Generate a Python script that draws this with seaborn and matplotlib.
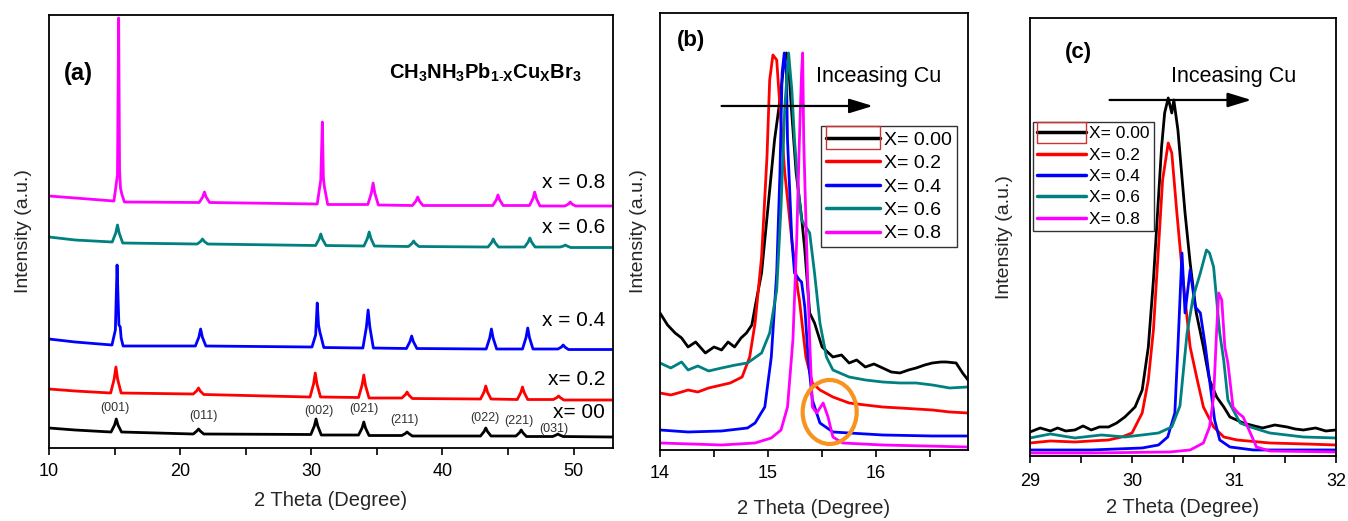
import matplotlib
matplotlib.use("Agg")
import matplotlib.pyplot as plt
import seaborn as sns
import pandas as pd
from matplotlib.patches import Ellipse, Rectangle
from matplotlib.legend_handler import HandlerLine2D
from matplotlib.ticker import MultipleLocator

# ---------------- data ----------------
labels_a = ["x= 00", "x= 0.2", "x = 0.4", "x = 0.6", "x = 0.8"]
legend_labels = ["X= 0.00", "X= 0.2", "X= 0.4", "X= 0.6", "X= 0.8"]
colors = ["#000000", "#FF0000", "#0000FF", "#008080", "#FF00FF"]

# Panel (a): full patterns (intensity in arbitrary, offset units)
a0_x = [10, 12, 14.73, 15.0, 15.13, 15.26, 15.53, 21.0, 21.27, 21.4, 21.53, 21.8,
        29.96, 30.23, 30.36, 30.49, 30.76, 33.6, 33.87, 34.0, 34.13, 34.4, 36.9, 37.17, 37.3, 37.43, 37.7,
        42.9, 43.17, 43.3, 43.43, 43.7, 45.6, 45.87, 46.0, 46.13, 46.4, 48.4, 48.67, 48.8, 48.93, 49.2, 53]
a0_y = [22, 20, 18, 25, 31, 25, 18, 16, 19, 21, 19, 16,
        15.5, 24, 31, 24, 15, 15, 22, 28, 22, 14.5, 14.5, 16.5, 18, 16.5, 14,
        14, 18.5, 22, 18.5, 14, 14, 17.3, 20, 17.3, 13.5, 13.5, 15, 16, 15, 13.5, 13]
a2_x = [10, 12, 14.7, 14.97, 15.1, 15.23, 15.5, 21.0, 21.27, 21.4, 21.53, 21.8,
        29.9, 30.17, 30.3, 30.43, 30.7, 33.6, 33.87, 34.0, 34.13, 34.4, 36.9, 37.17, 37.3, 37.43, 37.7,
        42.9, 43.17, 43.3, 43.43, 43.7, 45.7, 45.97, 46.1, 46.23, 46.5, 48.45, 48.72, 48.85, 48.98, 49.25, 53]
a2_y = [61, 59, 57, 71, 83, 71, 57, 56, 59.3, 62, 59, 55.5,
        53, 66, 77, 66, 53, 52.5, 65, 75, 64.5, 52, 52, 55.3, 58, 55, 51.5,
        51, 58, 64, 58, 51, 50.5, 57.4, 63, 57.4, 50.5, 50.5, 52.4, 54, 52.4, 50, 50]
a4_x = [10, 12, 14.8, 15.06, 15.12, 15.19, 15.27, 15.33, 15.43, 15.5, 15.65, 21.16, 21.43, 21.56, 21.69, 21.96,
        30.05, 30.33, 30.45, 30.55, 30.65, 30.75, 30.95, 33.93, 34.2, 34.33, 34.46, 34.73,
        37.25, 37.52, 37.65, 37.78, 38.05, 43.33, 43.6, 43.73, 43.86, 44.13, 46.1, 46.37, 46.5, 46.63, 46.9,
        48.8, 49.07, 49.2, 49.33, 49.6, 53]
a4_y = [111, 108, 105, 120, 150, 185, 150, 125, 123, 112, 104, 104, 113, 121, 113, 104,
        103, 115, 147, 125, 118, 113, 102.5, 102, 123, 140, 123, 102,
        101.5, 108.4, 114, 108.4, 101.5, 101, 112, 121, 112, 101, 101, 112.5, 122, 112.5, 101,
        101, 103, 105, 103, 100.5, 100.5]
a6_x = [10, 12, 14.82, 15.09, 15.22, 15.35, 15.62, 21.3, 21.57, 21.7, 21.83, 22.1,
        30.32, 30.59, 30.72, 30.85, 31.12, 34.01, 34.28, 34.41, 34.54, 34.81, 37.4, 37.67, 37.8, 37.93, 38.2,
        43.47, 43.74, 43.87, 44.0, 44.27, 46.26, 46.53, 46.66, 46.79, 47.06, 48.97, 49.24, 49.37, 49.5, 49.77, 53]
a6_y = [213, 210, 208, 217, 225, 217, 207, 206, 208.7, 211, 208.7, 206,
        204.5, 210.8, 216, 210.8, 204.5, 204, 211.7, 218, 211.7, 204, 203.5, 206.5, 209, 206.5, 203.5,
        203, 207.4, 211, 207.4, 203, 203, 208, 212, 208, 203, 203, 204, 205, 204, 202.5, 202.5]
a8_x = [10, 12, 14.95, 15.22, 15.31, 15.38, 15.45, 15.55, 15.75, 21.45, 21.72, 21.85, 21.98, 22.25,
        30.45, 30.72, 30.84, 30.92, 31.0, 31.25, 34.31, 34.58, 34.71, 34.84, 35.11,
        37.71, 37.98, 38.11, 38.24, 38.51, 43.83, 44.1, 44.23, 44.36, 44.63, 46.63, 46.9, 47.03, 47.16, 47.43,
        49.34, 49.61, 49.74, 49.87, 50.14, 53]
a8_y = [254, 252, 249, 275, 432, 280, 262, 256, 248, 247.5, 253, 258, 253, 247.5,
        246, 270, 328, 272, 263, 245.5, 245.5, 257, 267, 257, 245,
        244.5, 249, 253, 249, 244.5, 244.5, 250, 255, 250, 244.5, 244.5, 251.5, 258, 251.5, 244,
        244, 246, 248, 246, 244, 244]

# hkl labels in panel (a)
hkl_text = ["(001)", "(011)", "(002)", "(021)", "(211)", "(022)", "(221)", "(031)"]
hkl_x = [15.06, 21.8, 30.6, 34.0, 37.1, 43.2, 45.86, 48.5]
hkl_y = [42, 34, 39, 41, 30, 32, 29, 21]
label_a_y = [38, 71, 130, 223, 268]

# Panel (b): zoom around 15 deg
b0_x = [14.0, 14.07, 14.14, 14.2, 14.26, 14.33, 14.42, 14.5, 14.57, 14.63, 14.69, 14.75, 14.8, 14.85, 14.88,
        14.94, 15.015, 15.06, 15.11, 15.15, 15.17, 15.19, 15.215, 15.26, 15.31, 15.34, 15.385, 15.43, 15.5,
        15.6, 15.68, 15.75, 15.82, 15.9, 15.98, 16.06, 16.14, 16.22, 16.3, 16.37, 16.45, 16.52, 16.6, 16.65,
        16.74, 16.8, 16.85]
b0_y = [137, 125, 117, 112, 103, 108, 97, 103, 100, 108, 103, 112, 117, 125, 143,
        177, 260, 310, 350, 390, 397, 385, 343, 277, 233, 200, 137, 127, 103,
        93, 95, 87, 90, 83, 86, 82, 78, 77, 80, 82, 85, 87, 88, 88,
        87, 77, 70]
b2_x = [14.0, 14.1, 14.2, 14.26, 14.35, 14.45, 14.57, 14.65, 14.76, 14.83, 14.88, 14.94, 14.99, 15.015, 15.045,
        15.08, 15.11, 15.155, 15.22, 15.275, 15.29, 15.35, 15.41, 15.48, 15.6, 15.75, 15.9, 16.06, 16.22, 16.37,
        16.52, 16.68, 16.85]
b2_y = [57, 55, 58, 60, 58, 62, 65, 67, 73, 93, 127, 193, 293, 370, 395,
        390, 343, 277, 210, 160, 150, 93, 67, 60, 53, 47, 45, 43, 42, 41,
        40, 38, 37]
b4_x = [14.0, 14.26, 14.57, 14.81, 14.88, 14.97, 15.03, 15.08, 15.11, 15.13, 15.15, 15.17, 15.18, 15.22, 15.245,
        15.29, 15.31, 15.34, 15.37, 15.41, 15.48, 15.6, 15.75, 16.06, 16.52, 16.85]
b4_y = [20, 18, 19, 22, 27, 43, 93, 177, 277, 377, 397, 377, 310, 210, 177,
        170, 168, 143, 93, 50, 27, 18, 17, 15, 14, 14]
b6_x = [14.0, 14.1, 14.2, 14.26, 14.35, 14.45, 14.57, 14.7, 14.81, 14.94, 15.015, 15.08, 15.12, 15.155, 15.19,
        15.22, 15.245, 15.28, 15.31, 15.385, 15.43, 15.48, 15.54, 15.6, 15.75, 15.9, 16.06, 16.22, 16.37, 16.52,
        16.68, 16.85]
b6_y = [87, 82, 88, 80, 84, 79, 82, 85, 87, 97, 117, 160, 243, 343, 397,
        360, 310, 260, 230, 217, 177, 127, 93, 80, 73, 70, 68, 67, 67, 65,
        62, 63]
b8_x = [14.0, 14.57, 14.88, 15.03, 15.12, 15.18, 15.23, 15.265, 15.29, 15.31, 15.32, 15.33, 15.355, 15.385, 15.41,
        15.45, 15.51, 15.555, 15.6, 15.69, 16.06, 16.85]
b8_y = [7, 5, 7, 12, 20, 43, 110, 210, 310, 377, 397, 310, 210, 110, 43,
        37, 47, 33, 13, 7, 5, 3]

# Panel (c): zoom around 30.5 deg
c0_x = [29.0, 29.1, 29.2, 29.27, 29.35, 29.44, 29.52, 29.6, 29.68, 29.77, 29.85, 29.93, 30.03, 30.1, 30.16,
        30.21, 30.26, 30.29, 30.32, 30.355, 30.39, 30.41, 30.45, 30.52, 30.57, 30.63, 30.7, 30.76, 30.83, 30.9,
        30.96, 31.09, 31.2, 31.28, 31.4, 31.52, 31.6, 31.68, 31.8, 31.9, 32.0]
c0_y = [24, 28, 25, 28, 25, 26, 30, 26, 29, 29, 33, 39, 49, 66, 109,
        176, 259, 309, 343, 358, 343, 356, 326, 243, 193, 143, 109, 76, 59, 49,
        39, 33, 30, 28, 31, 29, 27, 26, 28, 25, 26]
c2_x = [29.0, 29.2, 29.44, 29.6, 29.77, 29.9, 30.0, 30.1, 30.16, 30.21, 30.26, 30.3, 30.355, 30.39, 30.44,
        30.5, 30.57, 30.64, 30.7, 30.8, 30.9, 31.03, 31.35, 31.7, 32.0]
c2_y = [13, 15, 14, 15, 16, 19, 23, 43, 76, 126, 209, 276, 313, 303, 243,
        176, 109, 76, 49, 29, 19, 16, 13, 12, 11]
c4_x = [29.0, 29.6, 30.1, 30.26, 30.35, 30.42, 30.45, 30.49, 30.52, 30.57, 30.62, 30.67, 30.72, 30.76, 30.81,
        30.86, 30.96, 31.19, 32.0]
c4_y = [6, 6, 8, 11, 19, 43, 109, 203, 143, 186, 149, 143, 109, 76, 36,
        16, 9, 6, 6]
c6_x = [29.0, 29.2, 29.44, 29.7, 29.93, 30.1, 30.26, 30.39, 30.47, 30.54, 30.6, 30.67, 30.73, 30.76, 30.8,
        30.86, 30.9, 30.94, 31.06, 31.16, 31.35, 31.68, 32.0]
c6_y = [18, 22, 18, 21, 19, 21, 23, 29, 50, 123, 159, 183, 206, 203, 189,
        123, 95, 56, 33, 29, 23, 19, 18]
c8_x = [29.0, 29.6, 30.37, 30.57, 30.7, 30.76, 30.8, 30.83, 30.85, 30.88, 30.91, 30.94, 30.99, 31.04, 31.09,
        31.16, 31.22, 31.35, 32.0]
c8_y = [3, 3, 4, 6, 13, 29, 59, 126, 163, 156, 109, 93, 49, 43, 39,
        23, 9, 5, 4]

# ---------------- style ----------------
sns.set_theme(style="ticks")
plt.rcParams["font.family"] = ["Liberation Sans", "DejaVu Sans"]
plt.rcParams["mathtext.fontset"] = "custom"
plt.rcParams["mathtext.rm"] = "Liberation Sans"
plt.rcParams["mathtext.bf"] = "Liberation Sans:bold"
plt.rcParams["mathtext.it"] = "Liberation Sans:italic"
plt.rcParams["axes.edgecolor"] = "black"
plt.rcParams["axes.linewidth"] = 1.3
plt.rcParams["xtick.color"] = "black"
plt.rcParams["text.color"] = "black"

fig = plt.figure(figsize=(13.48, 5.21), dpi=100)
axA = fig.add_axes([0.03635, 0.1401, 0.4184, 0.8311])
axB = fig.add_axes([0.4896, 0.1363, 0.2285, 0.8388])
axC = fig.add_axes([0.7641, 0.1248, 0.2270, 0.8407])


def draw(ax, xs_list, ys_list, lw, legend_on):
    for xs, ys, c, lab in zip(xs_list, ys_list, colors, legend_labels):
        df = pd.DataFrame({"x": xs, "y": ys})
        sns.lineplot(data=df, x="x", y="y", ax=ax, color=c, lw=lw, sort=False,
                     estimator=None, label=lab if legend_on else None, legend=False)


draw(axA, [a0_x, a2_x, a4_x, a6_x, a8_x], [a0_y, a2_y, a4_y, a6_y, a8_y], 2.0, False)
draw(axB, [b0_x, b2_x, b4_x, b6_x, b8_x], [b0_y, b2_y, b4_y, b6_y, b8_y], 2.0, True)
draw(axC, [c0_x, c2_x, c4_x, c6_x, c8_x], [c0_y, c2_y, c4_y, c6_y, c8_y], 2.0, True)

for ax, xl, yl, maj, mn, lp, xlp, tpad in [(axA, (10, 53), (2, 435), 10, 5, 12, 8, 6),
                                            (axB, (14, 16.85), (0, 437), 1, 0.5, 9, 12, 6),
                                            (axC, (29, 32), (0, 438), 1, 0.5, 12, 6, 7)]:
    ax.set_xlim(*xl)
    ax.set_ylim(*yl)
    ax.set_yticks([])
    ax.xaxis.set_major_locator(MultipleLocator(maj))
    ax.xaxis.set_minor_locator(MultipleLocator(mn))
    ax.tick_params(axis="x", which="both", direction="out", length=5, width=1.2,
                   labelsize=13, pad=tpad, colors="black")
    ax.set_xlabel("2 Theta (Degree)", fontsize=14.5, labelpad=xlp)
    ax.set_ylabel("Intensity (a.u.)", fontsize=14, labelpad=lp)
    for s in ax.spines.values():
        s.set_visible(True)
        s.set_color("black")
        s.set_linewidth(1.3)

# Panel (a) annotations
axA.text(11.1, 377, "(a)", fontsize=17, fontweight="bold", ha="left", va="center")
axA.text(35.9, 377, r"$\mathbf{CH_{3}NH_{3}Pb_{1\text{-}X}Cu_{X}Br_{3}}$", fontsize=14.5,
         ha="left", va="center")
for t, y in zip(labels_a, label_a_y):
    axA.text(52.4, y, t, fontsize=15, ha="right", va="center")
for t, x, y in zip(hkl_text, hkl_x, hkl_y):
    axA.text(x, y, t, fontsize=9, ha="center", va="center", color="#333333")

# Panel (b) annotations
axB.text(14.157, 409, "(b)", fontsize=16, fontweight="bold", ha="left", va="center")
axB.text(15.447, 373, "Inceasing Cu", fontsize=15.5, ha="left", va="center")
axB.annotate("", xy=(15.97, 344), xytext=(14.57, 344),
             arrowprops=dict(arrowstyle="-|>,head_length=0.72,head_width=0.22",
                             color="black", lw=1.6, mutation_scale=20, shrinkA=0, shrinkB=0))
axB.add_patch(Ellipse((15.57, 38), width=0.5, height=64, fill=False,
                      edgecolor="#F7931E", lw=3, zorder=10))

# Panel (c) annotations
axC.text(29.343, 403, "(c)", fontsize=16, fontweight="bold", ha="left", va="center")
axC.text(30.38, 379, "Inceasing Cu", fontsize=15.5, ha="left", va="center")
axC.annotate("", xy=(31.17, 356), xytext=(29.78, 356),
             arrowprops=dict(arrowstyle="-|>,head_length=0.72,head_width=0.22",
                             color="black", lw=1.6, mutation_scale=20, shrinkA=0, shrinkB=0))


class BoxedHandler(HandlerLine2D):
    def create_artists(self, legend, orig_handle, xdescent, ydescent, width, height, fontsize, trans):
        arts = super().create_artists(legend, orig_handle, xdescent, ydescent, width, height, fontsize, trans)
        r = Rectangle((-xdescent, -ydescent - 0.35 * height), width, 1.7 * height, fill=False,
                      edgecolor="#CC3333", lw=1.0, transform=trans)
        return list(arts) + [r]


for ax, anchor, fs, ls in [(axB, (0.523, 0.741), 14, 0.3), (axC, (0.01, 0.763), 12.5, 0.36)]:
    h, l = ax.get_legend_handles_labels()
    leg = ax.legend(h, l, loc="upper left", bbox_to_anchor=anchor, borderaxespad=0,
                    fontsize=fs, frameon=True, fancybox=False, framealpha=1, edgecolor="#333333",
                    handlelength=2.8, handletextpad=0.2, labelspacing=ls, borderpad=0.25,
                    handler_map={h[0]: BoxedHandler()})
    leg.get_frame().set_linewidth(1.0)
    for line in leg.get_lines():
        line.set_linewidth(2.5)

fig.savefig("out.png", dpi=100)
